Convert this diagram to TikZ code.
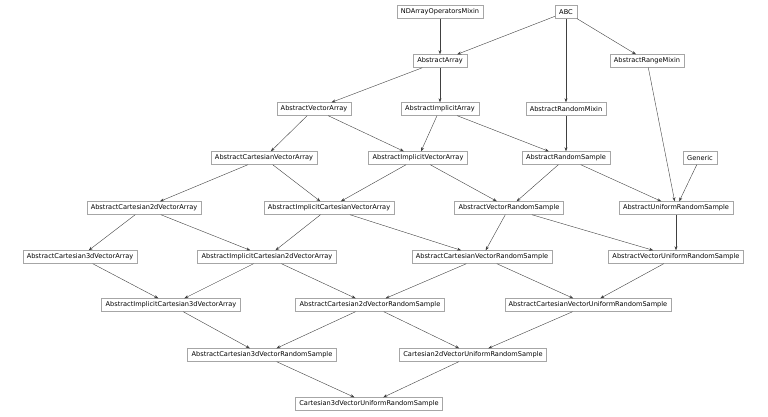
\documentclass[tikz,border=0pt]{standalone}
\usepackage{fontspec}
\setmainfont{DejaVu Sans}
\usetikzlibrary{arrows.meta}

\begin{document}
\begin{tikzpicture}[x=1pt,y=-1pt]
		\tikzstyle{cls}=[draw=gray!70,thin,font=\fontsize{6.6}{7}\selectfont,inner xsep=4pt,minimum height=13pt,inner ysep=1pt]
		\tikzstyle{inh}=[draw=black!75,thin,-{Stealth[length=4pt,width=3pt]}]
		\useasboundingbox (0,0) rectangle (768,417);
		\node [cls] (ndo) at (440,12) {NDArrayOperatorsMixin};
		\node [cls] (abc) at (566,12) {ABC};
		\node [cls] (arr) at (440,61) {AbstractArray};
		\node [cls] (rng) at (647,61) {AbstractRangeMixin};
		\node [cls] (va) at (314,109) {AbstractVectorArray};
		\node [cls] (ia) at (440,109) {AbstractImplicitArray};
		\node [cls] (rm) at (566,109) {AbstractRandomMixin};
		\node [cls] (cva) at (264,158) {AbstractCartesianVectorArray};
		\node [cls] (iva) at (418,158) {AbstractImplicitVectorArray};
		\node [cls] (rs) at (566,158) {AbstractRandomSample};
		\node [cls] (gen) at (700,158) {Generic};
		\node [cls] (c2a) at (144,208) {AbstractCartesian2dVectorArray};
		\node [cls] (icva) at (329,208) {AbstractImplicitCartesianVectorArray};
		\node [cls] (vrs) at (509,208) {AbstractVectorRandomSample};
		\node [cls] (urs) at (676,208) {AbstractUniformRandomSample};
		\node [cls] (c3a) at (80,257) {AbstractCartesian3dVectorArray};
		\node [cls] (ic2a) at (267,257) {AbstractImplicitCartesian2dVectorArray};
		\node [cls] (cvrs) at (482,257) {AbstractCartesianVectorRandomSample};
		\node [cls] (vurs) at (676,257) {AbstractVectorUniformRandomSample};
		\node [cls] (ic3a) at (171,305) {AbstractImplicitCartesian3dVectorArray};
		\node [cls] (c2rs) at (370,305) {AbstractCartesian2dVectorRandomSample};
		\node [cls] (cvurs) at (588,305) {AbstractCartesianVectorUniformRandomSample};
		\node [cls] (c3rs) at (262,355) {AbstractCartesian3dVectorRandomSample};
		\node [cls] (c2urs) at (473,355) {Cartesian2dVectorUniformRandomSample};
		\node [cls] (c3urs) at (369,404) {Cartesian3dVectorUniformRandomSample};
		% inheritance
		\foreach \p/\c in {ndo/arr,abc/arr,abc/rm,abc/rng,arr/va,arr/ia,rng/urs,
			va/cva,va/iva,ia/iva,ia/rs,rm/rs,cva/c2a,cva/icva,iva/icva,iva/vrs,
			rs/vrs,rs/urs,gen/urs,c2a/c3a,c2a/ic2a,icva/ic2a,icva/cvrs,vrs/cvrs,
			vrs/vurs,urs/vurs,c3a/ic3a,ic2a/ic3a,ic2a/c2rs,cvrs/c2rs,cvrs/cvurs,
			vurs/cvurs,ic3a/c3rs,c2rs/c3rs,c2rs/c2urs,cvurs/c2urs,c3rs/c3urs,c2urs/c3urs}
			\draw [inh] (\p) -- (\c);
\end{tikzpicture}
\end{document}
